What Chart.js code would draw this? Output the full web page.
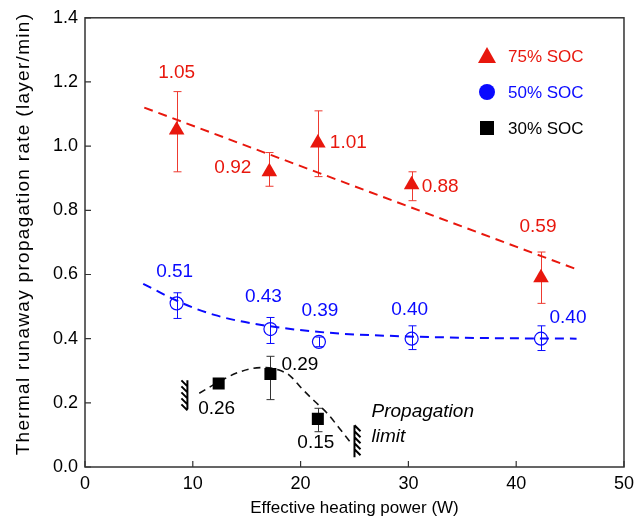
<!DOCTYPE html>
<html lang="en">
<head>
<meta charset="UTF-8">
<title>Thermal runaway propagation rate</title>
<script src="https://cdn.jsdelivr.net/npm/chart.js@4"></script>
<style>
  html, body { margin: 0; padding: 0; background: #fff; }
  #wrap { width: 640px; height: 524px; }
</style>
</head>
<body>
<div id="wrap"><canvas id="myChart" width="640" height="524"></canvas></div>
<script>
// heating power (W) and propagation rate (layer/min) per SOC level
const power75 = [8.5, 17.1, 21.6, 30.3, 42.3];
const rate75 = [1.05, 0.92, 1.01, 0.88, 0.59];
const errLow75 = [0.92, 0.875, 0.905, 0.83, 0.51];
const errHigh75 = [1.17, 0.98, 1.11, 0.92, 0.67];

const power50 = [8.5, 17.2, 21.7, 30.3, 42.3];
const rate50 = [0.51, 0.43, 0.39, 0.40, 0.40];
const errLow50 = [0.463, 0.385, 0.375, 0.366, 0.363];
const errHigh50 = [0.543, 0.466, 0.405, 0.44, 0.44];

const power30 = [12.4, 17.2, 21.6];
const rate30 = [0.26, 0.29, 0.15];
const errLow30 = [0.26, 0.21, 0.11];
const errHigh30 = [0.26, 0.345, 0.183];

// dashed trend curves
const fit75X = [5.5, 45.7];
const fit75Y = [1.12, 0.615];
const fit50X = [5.4, 8.1, 10, 12, 14.3, 17.1, 19.6, 23.6, 29.8, 35, 40, 45.6];
const fit50Y = [0.571, 0.525, 0.497, 0.474, 0.455, 0.439, 0.428, 0.416, 0.407, 0.403, 0.401, 0.40];
const fit30X = [10.6, 12.4, 14, 15.5, 16.8, 18, 19, 20.1, 21.3, 22.4, 23.5, 24.6];
const fit30Y = [0.23, 0.265, 0.292, 0.307, 0.31, 0.302, 0.285, 0.245, 0.205, 0.17, 0.125, 0.078];

// propagation limit markers: x, y from, y to, hatch side
const limitX = [9.5, 25.0];
const limitYLow = [0.18, 0.03];
const limitYHigh = [0.27, 0.13];
const limitSide = [-1, 1];

const seriesNames = ['75% SOC', '50% SOC', '30% SOC'];
const xTicks = [0, 10, 20, 30, 40, 50];
const yTicks = [0, 0.2, 0.4, 0.6, 0.8, 1.0, 1.2, 1.4];
const yTitle = 'Thermal runaway propagation rate (layer/min)';

const RED = '#e8170d';
const BLUE = '#0a0aff';
const BLACK = '#000';
const FONT = '"Liberation Sans", Arial, sans-serif';

// value label placement (pixel offset from the marker, text alignment)
const labelPos = [
  [[0, -57, 'center'], [-18, -4, 'right'], [12, 0, 'left'], [10, 2, 'left'], [-3, -51, 'center']],
  [[-2, -32, 'center'], [-7, -32, 'center'], [1, -31, 'center'], [-2, -29, 'center'], [27, -21, 'center']],
  [[-2, 25, 'center'], [11, -9, 'left'], [-2, 24, 'center']]
];

const pts = (xs, ys) => xs.map((x, i) => ({ x: x, y: ys[i] }));

const groups = [
  { x: power75, y: rate75, lo: errLow75, hi: errHigh75, color: RED, errColor: '#ee3a30' },
  { x: power50, y: rate50, lo: errLow50, hi: errHigh50, color: BLUE, errColor: BLUE },
  { x: power30, y: rate30, lo: errLow30, hi: errHigh30, color: BLACK, errColor: '#333' }
];

const extras = {
  id: 'extras',
  beforeDatasetsDraw(chart) {
    const { ctx, chartArea: a, scales: { x, y } } = chart;
    ctx.save();
    // frame
    ctx.strokeStyle = '#333';
    ctx.lineWidth = 1.5;
    ctx.strokeRect(a.left, a.top, a.right - a.left, a.bottom - a.top);
    // inward ticks
    ctx.lineWidth = 1.2;
    ctx.beginPath();
    xTicks.forEach(v => {
      const px = x.getPixelForValue(v);
      ctx.moveTo(px, a.bottom);
      ctx.lineTo(px, a.bottom - 6);
    });
    yTicks.forEach(v => {
      const py = y.getPixelForValue(v);
      ctx.moveTo(a.left, py);
      ctx.lineTo(a.left + 6, py);
    });
    ctx.stroke();
    // y axis title, drawn here so it can be spaced out
    ctx.save();
    ctx.translate(24, 234);
    ctx.rotate(-Math.PI / 2);
    ctx.font = '19px ' + FONT;
    ctx.letterSpacing = '1.3px';
    ctx.fillStyle = BLACK;
    ctx.textAlign = 'center';
    ctx.textBaseline = 'middle';
    ctx.fillText(yTitle, 0, 0);
    ctx.restore();
    // error bars
    groups.forEach(g => {
      ctx.strokeStyle = g.errColor;
      ctx.lineWidth = 1;
      g.x.forEach((xv, i) => {
        if (g.hi[i] - g.lo[i] <= 0) return;
        const px = Math.round(x.getPixelForValue(xv)) + 0.5;
        const top = y.getPixelForValue(g.hi[i]);
        const bot = y.getPixelForValue(g.lo[i]);
        ctx.beginPath();
        ctx.moveTo(px, top); ctx.lineTo(px, bot);
        ctx.moveTo(px - 4, top); ctx.lineTo(px + 4, top);
        ctx.moveTo(px - 4, bot); ctx.lineTo(px + 4, bot);
        ctx.stroke();
      });
    });
    // propagation limit hatches
    ctx.strokeStyle = BLACK;
    ctx.lineWidth = 2;
    limitX.forEach((xv, i) => {
      const px = x.getPixelForValue(xv);
      const top = y.getPixelForValue(limitYHigh[i]);
      const bot = y.getPixelForValue(limitYLow[i]);
      ctx.beginPath();
      ctx.moveTo(px, top); ctx.lineTo(px, bot);
      const s = limitSide[i];
      for (let yy = top; yy < bot - 3; yy += 6) {
        if (s < 0) { ctx.moveTo(px - 6, yy); ctx.lineTo(px, yy + 6); }
        else { ctx.moveTo(px, yy); ctx.lineTo(px + 6, yy + 6); }
      }
      ctx.stroke();
    });
    ctx.restore();
  },
  afterDatasetsDraw(chart) {
    const { ctx, scales: { x, y } } = chart;
    ctx.save();
    ctx.font = '19px ' + FONT;
    ctx.textBaseline = 'middle';
    // value labels
    groups.forEach((g, gi) => {
      ctx.fillStyle = g.color;
      g.x.forEach((xv, i) => {
        const [dx, dy, align] = labelPos[gi][i];
        ctx.textAlign = align;
        ctx.fillText(g.y[i].toFixed(2), x.getPixelForValue(xv) + dx, y.getPixelForValue(g.y[i]) + dy);
      });
    });
    // propagation limit caption
    ctx.fillStyle = BLACK;
    ctx.textAlign = 'left';
    ctx.font = 'italic 19px ' + FONT;
    const cx = x.getPixelForValue(limitX[1]) + 17;
    ctx.fillText('Propagation', cx, 412);
    ctx.fillText('limit', cx, 437);
    // legend
    ctx.font = '17px ' + FONT;
    const lx = 487;
    const ly = [56, 92, 128];
    groups.forEach((g, i) => {
      ctx.fillStyle = g.color;
      ctx.beginPath();
      if (i === 0) {
        ctx.moveTo(lx, ly[i] - 9); ctx.lineTo(lx + 9, ly[i] + 7); ctx.lineTo(lx - 9, ly[i] + 7); ctx.closePath();
      } else if (i === 1) {
        ctx.arc(lx, ly[i], 8, 0, Math.PI * 2);
      } else {
        ctx.rect(lx - 7, ly[i] - 7, 14, 14);
      }
      ctx.fill();
      ctx.fillText(seriesNames[i], lx + 21, ly[i] + 1);
    });
    ctx.restore();
  }
};

const fitLine = (data, color, dash, width) => ({
  type: 'line',
  data: data,
  borderColor: color,
  borderWidth: width,
  borderDash: dash,
  pointRadius: 0,
  fill: false,
  cubicInterpolationMode: 'monotone',
  order: 5
});

new Chart(document.getElementById('myChart').getContext('2d'), {
  type: 'scatter',
  data: {
    datasets: [
      fitLine(pts(fit75X, fit75Y), RED, [9, 6], 2),
      fitLine(pts(fit50X, fit50Y), BLUE, [9, 6], 2),
      fitLine(pts(fit30X, fit30Y), '#111', [7, 5], 1.6),
      {
        label: seriesNames[0], data: pts(power75, rate75),
        pointStyle: 'triangle', pointRadius: 9, backgroundColor: RED, borderColor: RED, borderWidth: 0, order: 1
      },
      {
        label: seriesNames[1], data: pts(power50, rate50),
        pointStyle: 'circle', pointRadius: 6.5, backgroundColor: 'rgba(255,255,255,0)', borderColor: BLUE, borderWidth: 1.2, order: 1
      },
      {
        label: seriesNames[2], data: pts(power30, rate30),
        pointStyle: 'rect', pointRadius: 8.5, backgroundColor: BLACK, borderColor: BLACK, borderWidth: 0, order: 1
      }
    ]
  },
  options: {
    responsive: false,
    animation: false,
    layout: { padding: { left: 0, right: 14, top: 16, bottom: 0 } },
    plugins: { legend: { display: false }, tooltip: { enabled: false } },
    scales: {
      x: {
        type: 'linear', min: 0, max: 50,
        afterFit: s => { s.height = 57; },
        afterBuildTicks: s => { s.ticks = xTicks.map(v => ({ value: v })); },
        grid: { display: false, drawTicks: false },
        border: { display: false },
        ticks: { color: '#000', font: { family: FONT, size: 18 }, padding: 6, maxRotation: 0 },
        title: { display: true, text: 'Effective heating power (W)', color: '#000', font: { family: FONT, size: 17 }, padding: { top: 0, bottom: 5 } }
      },
      y: {
        type: 'linear', min: 0, max: 1.4,
        afterFit: s => { s.width = 85; },
        afterBuildTicks: s => { s.ticks = yTicks.map(v => ({ value: v })); },
        grid: { display: false, drawTicks: false },
        border: { display: false },
        ticks: { color: '#000', font: { family: FONT, size: 18 }, padding: 7, callback: v => v.toFixed(1) },
        title: { display: false }
      }
    }
  },
  plugins: [extras]
});
</script>
</body>
</html>
